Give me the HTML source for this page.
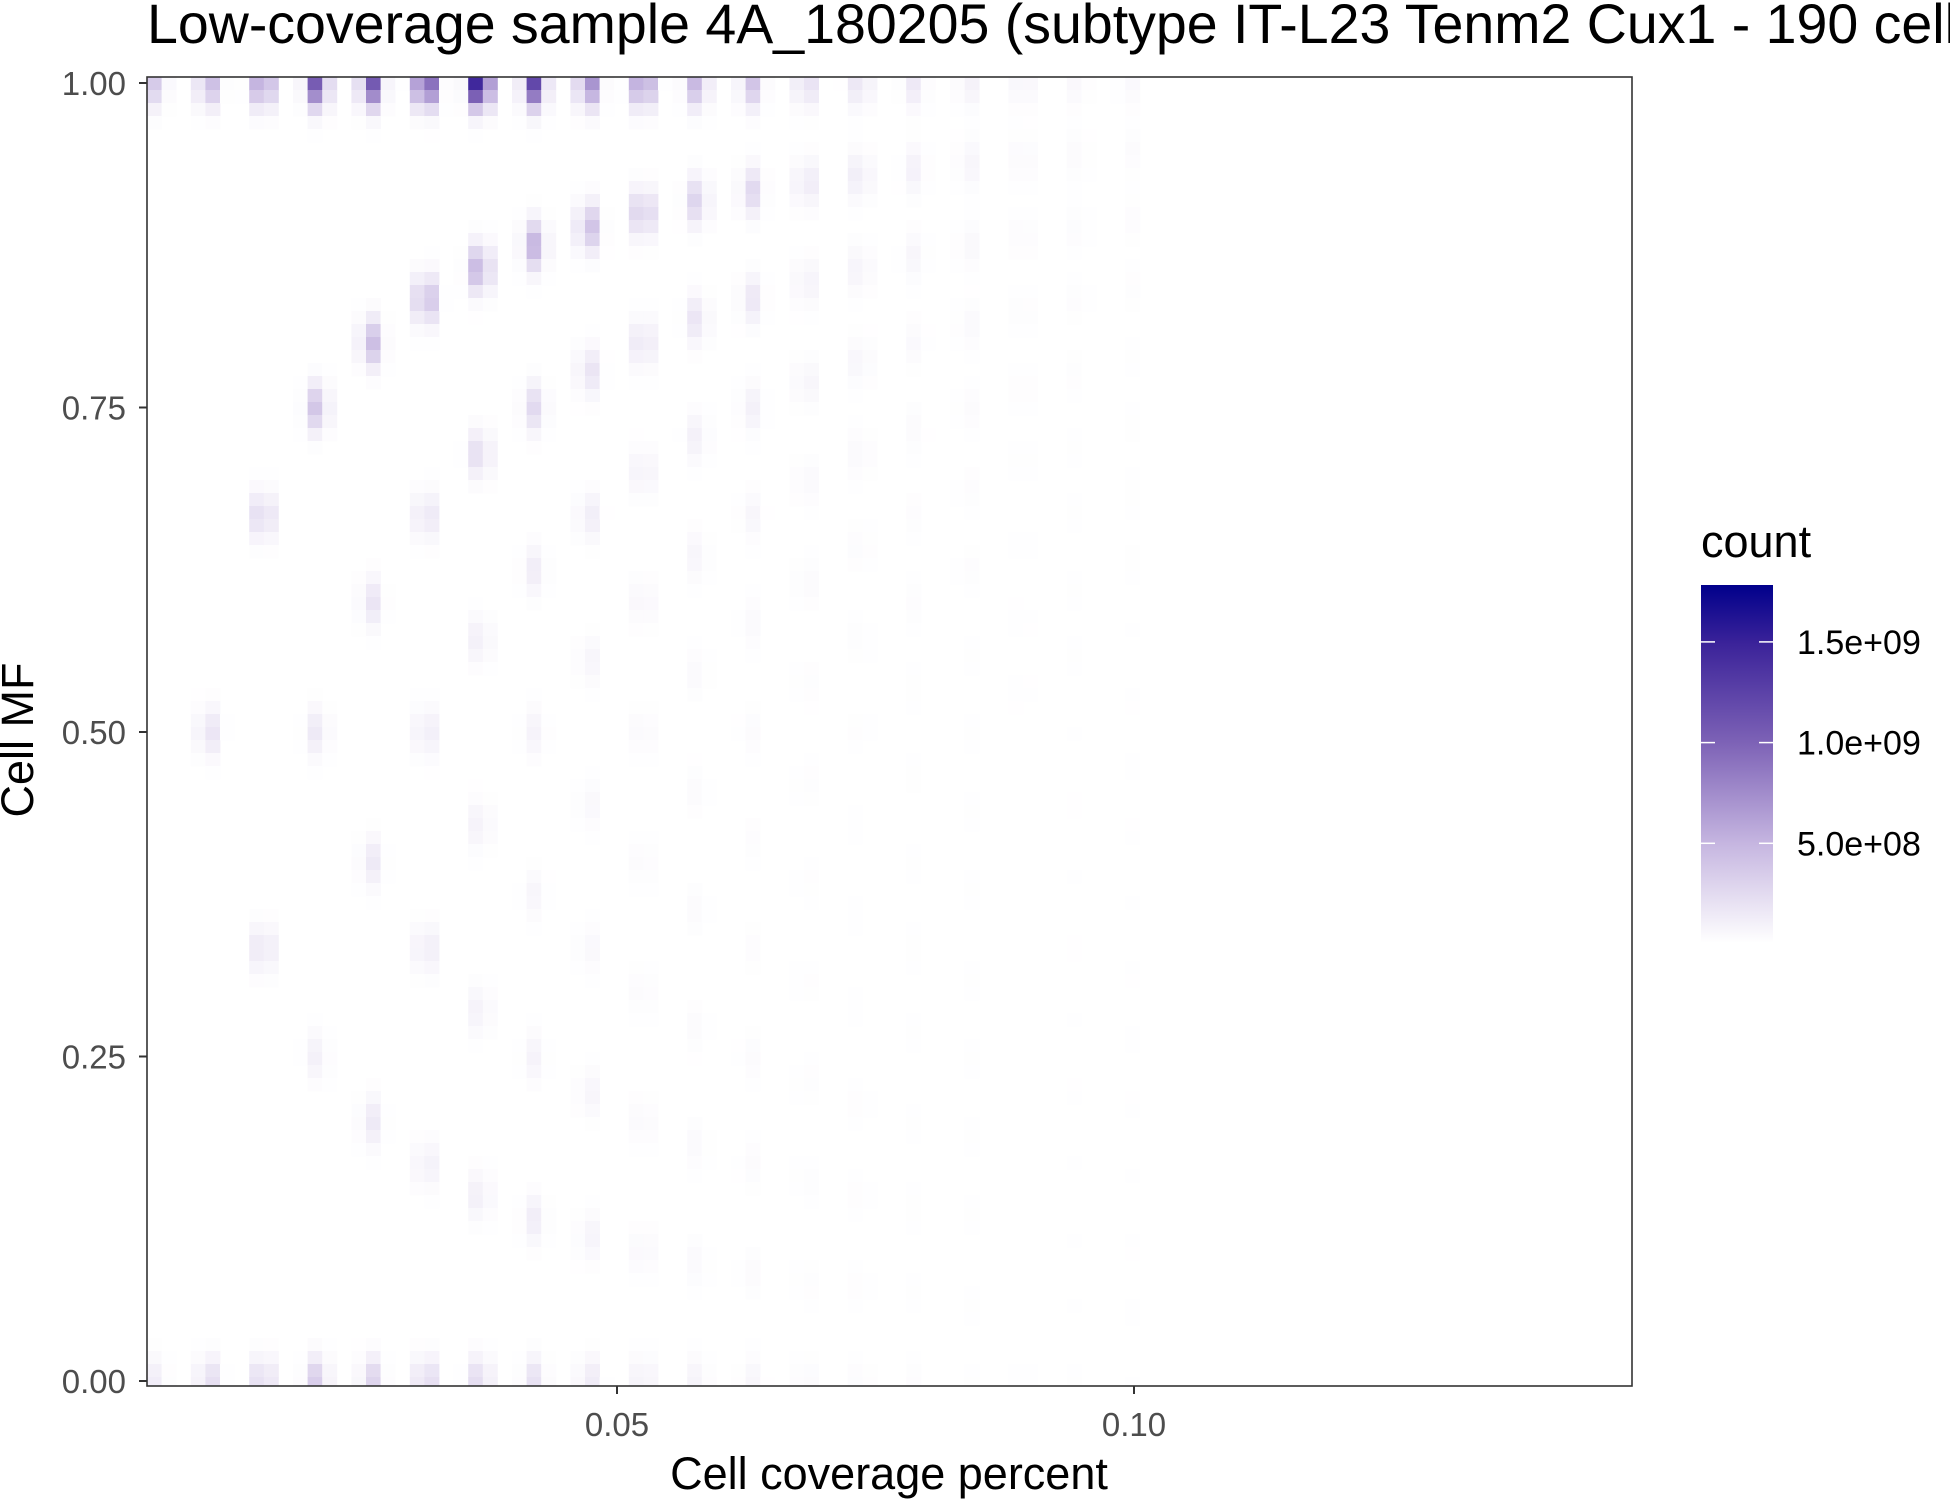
<!DOCTYPE html>
<html><head><meta charset="utf-8"><style>
html,body{margin:0;padding:0;background:#fff;}
svg{display:block;font-family:"Liberation Sans",Arial,sans-serif;}
</style></head><body>
<svg id="chart" width="1950" height="1500" viewBox="0 0 1950 1500">
<defs>
<linearGradient id="cbar" x1="0" y1="1" x2="0" y2="0">
<stop offset="0" stop-color="#ffffff"/>
<stop offset="0.28" stop-color="#c5b5e0"/>
<stop offset="0.56" stop-color="#7d62b6"/>
<stop offset="0.84" stop-color="#3a2299"/>
<stop offset="1" stop-color="#00008b"/>
</linearGradient>
<clipPath id="panelClip"><rect x="147" y="77" width="1485" height="1309"/></clipPath>
</defs>
<text x="147" y="43" font-size="55.5" fill="#000">Low-coverage sample 4A_180205 (subtype IT-L23 Tenm2 Cux1 - 190 cells)</text>
<g id="cells" clip-path="url(#panelClip)"></g>
<rect x="147" y="77" width="1485" height="1309" fill="none" stroke="#333" stroke-width="1.6"/>
<g id="axes"></g>
<text x="889" y="1489" font-size="45" text-anchor="middle" fill="#000">Cell coverage percent</text>
<text transform="translate(33,740) rotate(-90)" font-size="45" text-anchor="middle" fill="#000">Cell MF</text>
<g>
<text x="1701" y="557" font-size="45" fill="#000">count</text>
<rect x="1701" y="585" width="72" height="358" fill="url(#cbar)"/>
<g id="legendTicks"></g>
</g>
</svg>
<script>
// ---- data ----
const readCounts = [1,2,3,4,5,6,7,8,9,10,11,12,13,14,15,16,17,18,19];
const coveragePerRead = 0.00525;
// count (in 1e9) for each methylated-read count j = 0..k, per column k
const blobCounts = [
 [0.12,0.35],
 [0.25,0.2,0.5],
 [0.3,0.2,0.3,0.75],
 [0.35,0.1,0.15,0.4,1.1],
 [0.3,0.15,0.15,0.18,0.45,1.1],
 [0.3,0.12,0.15,0.15,0.2,0.5,1.3],
 [0.28,0.12,0.1,0.1,0.12,0.25,0.55,1.78],
 [0.2,0.12,0.08,0.06,0.08,0.12,0.25,0.5,1.2],
 [0.15,0.08,0.07,0.05,0.05,0.07,0.13,0.2,0.45,0.8],
 [0.12,0.06,0.05,0.04,0.04,0.05,0.07,0.11,0.2,0.4,0.8],
 [0.08,0.04,0.04,0.03,0.03,0.03,0.04,0.07,0.1,0.18,0.3,0.5],
 [0.06,0.03,0.03,0.03,0.02,0.02,0.03,0.04,0.06,0.1,0.16,0.26,0.4],
 [0.04,0.02,0.02,0.02,0.015,0.015,0.02,0.02,0.04,0.05,0.08,0.1,0.16,0.25],
 [0.03,0.015,0.015,0.015,0.01,0.01,0.01,0.015,0.02,0.03,0.05,0.07,0.09,0.14,0.2],
 [0.02,0.01,0.01,0.01,0.01,0.01,0.01,0.01,0.01,0.02,0.02,0.03,0.04,0.06,0.09,0.15],
 [0.01,0.01,0.01,0.01,0.01,0.01,0.01,0.01,0.01,0.01,0.02,0.02,0.03,0.04,0.05,0.07,0.1],
 [0.01,0.005,0.005,0.005,0.005,0.005,0.005,0.005,0.005,0.01,0.01,0.01,0.015,0.02,0.025,0.035,0.05,0.08],
 [0.01,0.005,0.005,0.005,0.005,0.005,0.005,0.005,0.005,0.005,0.01,0.01,0.01,0.01,0.015,0.02,0.025,0.035,0.05],
 [0.005,0.005,0.005,0.005,0.005,0.005,0.005,0.005,0.005,0.005,0.005,0.005,0.01,0.01,0.01,0.01,0.015,0.02,0.025,0.04]
];
const maxCount = 1.78;
const xTicks = [0.05, 0.10];
const xTickLabels = ["0.05","0.10"];
const yTicks = [0, 0.25, 0.5, 0.75, 1];
const yTickLabels = ["0.00","0.25","0.50","0.75","1.00"];
const legendTicks = [0.5, 1.0, 1.5];
const legendTickLabels = ["5.0e+08","1.0e+09","1.5e+09"];

// ---- scales ----
const NS = "http://www.w3.org/2000/svg";
const xScale = v => 100 + v * 10340;
const yScale = v => 1381 - v * 1298;
const legScale = v => 944 - v * 201.4;
const stops = [[0,[255,255,255]],[0.28,[197,181,224]],[0.56,[125,98,182]],[0.84,[58,34,153]],[1,[0,0,139]]];
function color(t){
  t = Math.max(0, Math.min(1, t));
  for (let i = 1; i < stops.length; i++) {
    if (t <= stops[i][0]) {
      const a = stops[i-1], b = stops[i], f = (t - a[0]) / (b[0] - a[0]);
      const c = a[1].map((v, j) => Math.round(v + (b[1][j] - v) * f));
      return `rgb(${c[0]},${c[1]},${c[2]})`;
    }
  }
  return "rgb(0,0,139)";
}

// ---- blobs ----
const blobs = [];
readCounts.forEach((k, ci) => {
  blobCounts[ci].forEach((c, j) => {
    blobs.push({ px: xScale(k * coveragePerRead), py: yScale(j / k), c: c });
  });
});

// ---- bins ----
const cellsG = document.getElementById("cells");
const bw = 14.6, bh = 13, sx = 7, sy = 16;
for (let bx = 147; bx < 1632; bx += bw) {
  for (let by = 77; by < 1386; by += bh) {
    const cx = bx + bw / 2, cy = by + bh / 2;
    let v = 0;
    for (const b of blobs) {
      const dx = cx - b.px, dy = cy - b.py;
      if (Math.abs(dx) > 30 || Math.abs(dy) > 60) continue;
      v += b.c * Math.exp(-(dx*dx)/(2*sx*sx) - (dy*dy)/(2*sy*sy));
    }
    if (v < 0.004) continue;
    const r = document.createElementNS(NS, "rect");
    r.setAttribute("x", bx.toFixed(1));
    r.setAttribute("y", by.toFixed(1));
    r.setAttribute("width", (bw + 0.4).toFixed(1));
    r.setAttribute("height", (bh + 0.4).toFixed(1));
    r.setAttribute("fill", color(v / maxCount));
    
    
    cellsG.appendChild(r);
  }
}

// ---- axes ----
const axesG = document.getElementById("axes");
function mk(tag, attrs, text){
  const e = document.createElementNS(NS, tag);
  for (const a in attrs) e.setAttribute(a, attrs[a]);
  if (text !== undefined) e.textContent = text;
  axesG.appendChild(e);
  return e;
}
xTicks.forEach((v, i) => {
  const x = xScale(v);
  const t = mk("line", {x1:x, x2:x, y1:1386, y2:1394, stroke:"#333", "stroke-width":2});
  
  
  const l = mk("text", {x:x, y:1436, "font-size":33, "text-anchor":"middle", fill:"#4d4d4d"}, xTickLabels[i]);
  
  
});
yTicks.forEach((v, i) => {
  const y = yScale(v);
  const t = mk("line", {x1:139, x2:147, y1:y, y2:y, stroke:"#333", "stroke-width":2});
  
  
  const l = mk("text", {x:126, y:y + 12, "font-size":33, "text-anchor":"end", fill:"#4d4d4d"}, yTickLabels[i]);
  
  
});
const legG = document.getElementById("legendTicks");
legendTicks.forEach((v, i) => {
  const y = legScale(v);
  [[1701,1715],[1759,1773]].forEach(p => {
    const t = document.createElementNS(NS, "line");
    t.setAttribute("x1", p[0]); t.setAttribute("x2", p[1]);
    t.setAttribute("y1", y); t.setAttribute("y2", y);
    t.setAttribute("stroke", "#fff"); t.setAttribute("stroke-width", 1.5);
    
    
    legG.appendChild(t);
  });
  const l = document.createElementNS(NS, "text");
  l.setAttribute("x", 1797); l.setAttribute("y", y + 12);
  l.setAttribute("font-size", 34); l.setAttribute("fill", "#000");
  l.textContent = legendTickLabels[i];
  
  
  legG.appendChild(l);
});
</script>
</body></html>
